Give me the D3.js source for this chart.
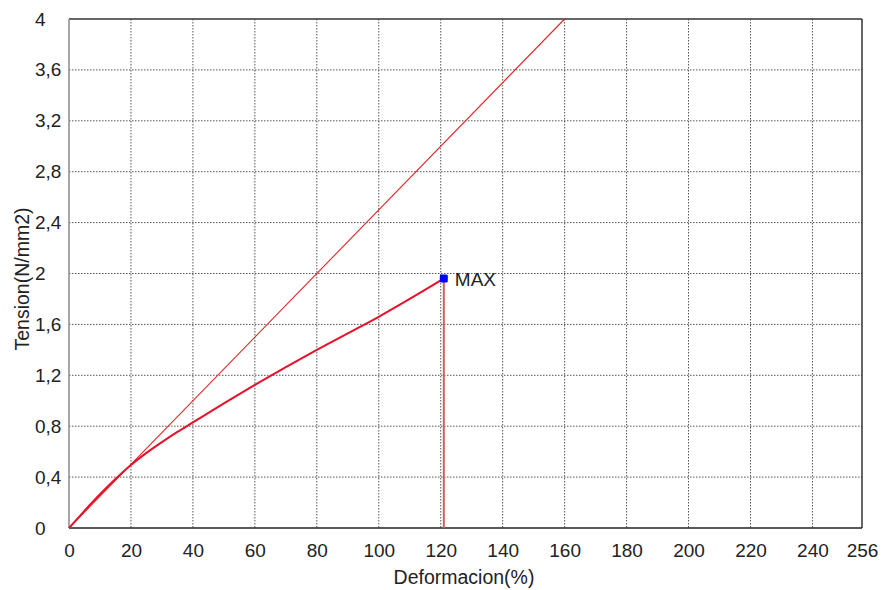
<!DOCTYPE html>
<html><head><meta charset="utf-8">
<script src="https://cdn.jsdelivr.net/npm/d3@7"></script>
<style>body{margin:0;background:#fff;} text{font-family:"Liberation Sans",Arial,sans-serif;}</style>
</head><body>
<svg id="chart" width="883" height="590"></svg>
<script>
// Data
const xTicks = [0,20,40,60,80,100,120,140,160,180,200,220,240,256];
const yTicks = [0,0.4,0.8,1.2,1.6,2,2.4,2.8,3.2,3.6,4];
const curveX = [0,5,10,15,20,25,30,35,40,50,60,70,80,90,100,110,121];
const curveY = [0,0.135,0.265,0.385,0.495,0.59,0.675,0.755,0.83,0.98,1.125,1.265,1.40,1.53,1.66,1.80,1.96];
const modulusX = [0,160];
const modulusY = [0,4];
const maxPoint = {x:121, y:1.96, label:"MAX"};
const xLabel = "Deformacion(%)";
const yLabel = "Tension(N/mm2)";

const svg = d3.select("#chart");
const L=69, R=862, T=19, B=528;
const x = d3.scaleLinear().domain([0,256]).range([L,R]);
const y = d3.scaleLinear().domain([0,4]).range([B,T]);
const fmt = d => String(d).replace(".", ",");
const FS = 19;

// grid
const g = svg.append("g");
g.selectAll("line.v").data(xTicks.filter(d=>d>0 && d<256)).join("line")
  .attr("x1",d=>x(d)).attr("x2",d=>x(d)).attr("y1",T).attr("y2",B)
  .attr("stroke","#555").attr("stroke-width",1).attr("stroke-dasharray","1.5,1.5");
g.selectAll("line.h").data(yTicks.filter(d=>d>0 && d<4)).join("line")
  .attr("y1",d=>y(d)).attr("y2",d=>y(d)).attr("x1",L).attr("x2",R)
  .attr("stroke","#555").attr("stroke-width",1).attr("stroke-dasharray","1.5,1.5");

// axes with d3
const xAxis = d3.axisBottom(x).tickValues(xTicks).tickSize(0).tickPadding(16).tickFormat(fmt);
const ax = svg.append("g").attr("transform",`translate(0,${B})`).call(xAxis);
ax.select(".domain").remove();
ax.selectAll("text").attr("font-size",FS).attr("fill","#222").attr("font-family","Liberation Sans, Arial");
const yAxis = d3.axisLeft(y).tickValues(yTicks).tickSize(0).tickPadding(0).tickFormat(fmt);
const ay = svg.append("g").attr("transform",`translate(35,0)`).call(yAxis);
ay.select(".domain").remove();
ay.selectAll("text").attr("font-size",FS).attr("fill","#222").attr("text-anchor","start")
  .attr("font-family","Liberation Sans, Arial");

// frame
svg.append("line").attr("x1",L).attr("x2",R).attr("y1",T).attr("y2",T).attr("stroke","#333").attr("stroke-width",1.5);
svg.append("line").attr("x1",R).attr("x2",R).attr("y1",T).attr("y2",B).attr("stroke","#333").attr("stroke-width",1.5);
svg.append("line").attr("x1",L).attr("x2",R).attr("y1",B).attr("y2",B).attr("stroke","#222").attr("stroke-width",1.5);
svg.append("line").attr("x1",L).attr("x2",L).attr("y1",T).attr("y2",B).attr("stroke","#888").attr("stroke-width",1.5);

// modulus line
const line = d3.line().x(d=>x(d[0])).y(d=>y(d[1]));
svg.append("path").datum(d3.zip(modulusX,modulusY)).attr("d",line)
  .attr("fill","none").attr("stroke","#e02828").attr("stroke-width",1.1);

// vertical drop at max
svg.append("line").attr("x1",x(maxPoint.x)).attr("x2",x(maxPoint.x))
  .attr("y1",y(maxPoint.y)).attr("y2",y(0))
  .attr("stroke","#d06060").attr("stroke-width",2);

// main curve
svg.append("path").datum(d3.zip(curveX,curveY)).attr("d",d3.line().x(d=>x(d[0])).y(d=>y(d[1])).curve(d3.curveMonotoneX))
  .attr("fill","none").attr("stroke","#e8102a").attr("stroke-width",2);

// max marker
svg.append("rect").attr("x",x(maxPoint.x)-4).attr("y",y(maxPoint.y)-4).attr("width",8).attr("height",8)
  .attr("rx",1.5).attr("fill","#0000ff");
svg.append("text").attr("x",x(maxPoint.x)+11).attr("y",y(maxPoint.y)+7)
  .attr("font-size",FS).attr("fill","#222").text(maxPoint.label);

// axis titles
svg.append("text").attr("x",464).attr("y",584).attr("text-anchor","middle")
  .attr("font-size",19.5).attr("fill","#222").text(xLabel);
svg.append("text").attr("transform",`translate(29,279) rotate(-90)`).attr("text-anchor","middle")
  .attr("font-size",19.5).attr("fill","#222").text(yLabel);
</script>
</body></html>
